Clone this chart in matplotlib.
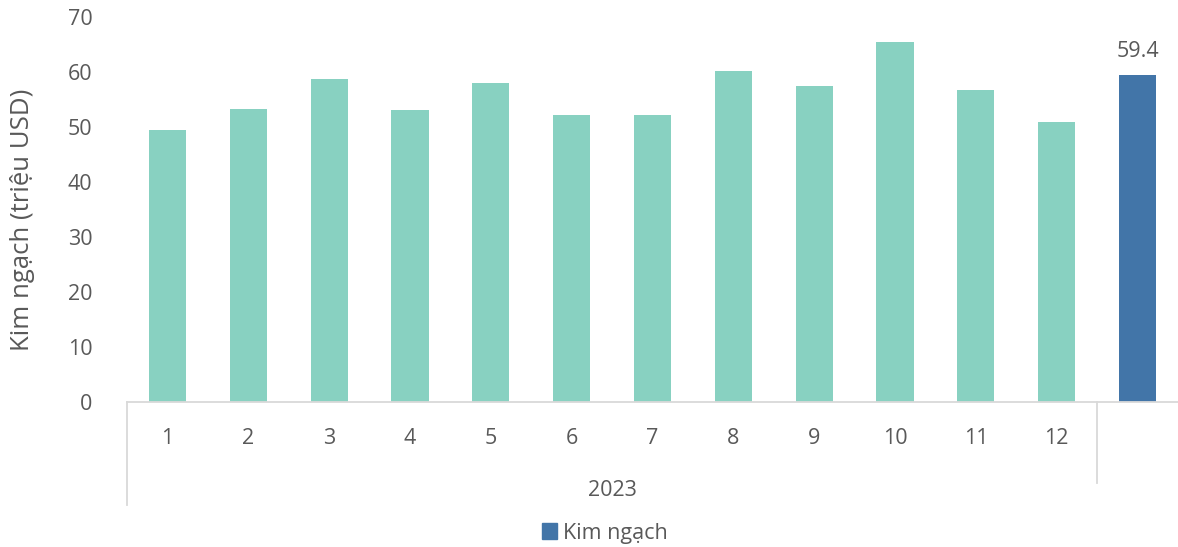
import numpy as np
import matplotlib.pyplot as plt
from matplotlib.patches import Patch

plt.rcParams['font.family'] = ['Open Sans', 'DejaVu Sans']

months = ['1', '2', '3', '4', '5', '6', '7', '8', '9', '10', '11', '12', '']
values = [49.4, 53.3, 58.7, 53.1, 58.0, 52.2, 52.2, 60.2, 57.5, 65.5, 56.7, 50.9, 59.4]
year_label = '2023'
series_name = 'Kim ngạch'

teal = '#88D1C1'
blue = '#4275A8'
grey = '#595959'
line_grey = '#D9D9D9'

fig = plt.figure(figsize=(11.78, 5.47), dpi=100)
ax = fig.add_axes([127 / 1178, 145 / 547, 1 - 127 / 1178, 385 / 547])

x = np.arange(len(values))
colors = [teal] * (len(values) - 1) + [blue]
bars = ax.bar(x, values, width=0.46, color=colors)

# label only the last bar
last = bars[-1]
ax.text(last.get_x() + last.get_width() / 2, values[-1] + 2.4, f'{values[-1]:.1f}',
        ha='center', va='bottom', fontsize=15.5, color=grey)

ax.set_xlim(-0.5, len(values) - 0.5)
ax.set_ylim(0, 70)
ax.set_yticks(range(0, 71, 10))
ax.set_xticks(x)
ax.set_xticklabels(months)
ax.tick_params(axis='y', length=0, pad=25, labelsize=15.5, labelcolor=grey)
ax.tick_params(axis='x', length=0, pad=19, labelsize=15.5, labelcolor=grey)

for s in ['top', 'right', 'left']:
    ax.spines[s].set_visible(False)
ax.spines['bottom'].set_color(line_grey)
ax.spines['bottom'].set_linewidth(1.3)

# category group brackets
trans = ax.get_xaxis_transform()
ax.plot([-0.5, -0.5], [0, -103 / 385], transform=trans, color=line_grey, lw=1.3, clip_on=False)
ax.plot([11.5, 11.5], [0, -81 / 385], transform=trans, color=line_grey, lw=1.3, clip_on=False)
ax.text(5.5, -88 / 385, year_label, transform=trans, ha='center', va='center',
        fontsize=15.5, color=grey)

ax.set_ylabel('Kim ngạch (triệu USD)', fontsize=18.5, color=grey)
ax.yaxis.set_label_coords(-(127 - 35) / 1053, 0.473)

fig.legend(handles=[Patch(color=blue, label=series_name)], loc='center',
           bbox_to_anchor=(605 / 1178, 1 - 533 / 547), frameon=False, fontsize=15.5,
           labelcolor=grey, handlelength=0.7, handleheight=0.7, handletextpad=0.3)

fig.savefig('out.png', dpi=100)
